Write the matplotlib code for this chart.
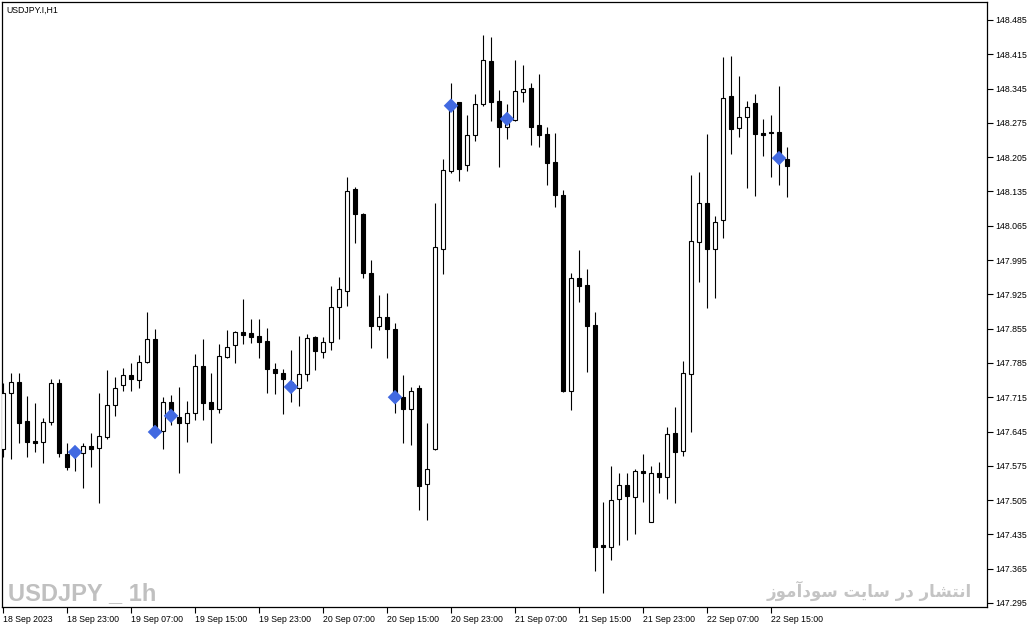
import matplotlib
matplotlib.use("Agg")
import matplotlib.pyplot as plt
from matplotlib.patches import Rectangle

# --------------------------
# Data: USDJPY.I H1 candles (18 Sep 15:00 .. 22 Sep 17:00)
# --------------------------
opens = [147.609, 147.724, 147.746, 147.666, 147.626, 147.624, 147.664, 147.744, 147.599, 147.597,
         147.601, 147.615, 147.611, 147.634, 147.699, 147.740, 147.760, 147.750, 147.787, 147.834,
         147.646, 147.705, 147.675, 147.662, 147.683, 147.779, 147.705, 147.691, 147.797, 147.822,
         147.848, 147.846, 147.840, 147.830, 147.773, 147.764, 147.746, 147.734, 147.762, 147.838,
         147.807, 147.828, 147.899, 147.932, 148.140, 148.089, 147.969, 147.860, 147.879, 147.854,
         147.715, 147.691, 147.734, 147.538, 147.609, 148.018, 148.177, 148.318, 148.189, 148.250,
         148.314, 148.401, 148.320, 148.267, 148.281, 148.338, 148.346, 148.271, 148.252, 148.195,
         148.128, 147.728, 147.958, 147.944, 147.862, 147.413, 147.409, 147.507, 147.536, 147.511,
         147.564, 147.460, 147.560, 147.552, 147.642, 147.605, 147.762, 148.032, 148.111, 148.018,
         148.077, 148.330, 148.265, 148.287, 148.316, 148.254, 148.256, 148.256, 148.201]
highs = [147.744, 147.764, 147.764, 147.717, 147.703, 147.673, 147.752, 147.752, 147.622, 147.611,
         147.622, 147.642, 147.724, 147.771, 147.756, 147.775, 147.785, 147.801, 147.889, 147.854,
         147.715, 147.720, 147.736, 147.707, 147.803, 147.834, 147.764, 147.824, 147.852, 147.850,
         147.916, 147.875, 147.875, 147.856, 147.785, 147.773, 147.811, 147.840, 147.844, 147.840,
         147.838, 147.942, 147.960, 148.165, 148.144, 148.091, 147.995, 147.924, 147.928, 147.867,
         147.760, 147.736, 147.740, 147.662, 148.111, 148.201, 148.356, 148.318, 148.291, 148.334,
         148.454, 148.450, 148.342, 148.314, 148.403, 148.393, 148.356, 148.375, 148.267, 148.254,
         148.138, 147.969, 148.016, 147.977, 147.889, 147.501, 147.575, 147.560, 147.560, 147.568,
         147.599, 147.575, 147.583, 147.654, 147.695, 147.789, 148.169, 148.175, 148.252, 148.085,
         148.410, 148.412, 148.371, 148.320, 148.334, 148.283, 148.291, 148.350, 148.226]
lows = [147.593, 147.589, 147.622, 147.593, 147.603, 147.581, 147.658, 147.593, 147.566, 147.564,
        147.530, 147.573, 147.499, 147.630, 147.677, 147.728, 147.728, 147.734, 147.785, 147.634,
        147.609, 147.658, 147.560, 147.624, 147.669, 147.669, 147.622, 147.683, 147.795, 147.785,
        147.824, 147.826, 147.795, 147.724, 147.722, 147.681, 147.705, 147.697, 147.748, 147.771,
        147.795, 147.811, 147.834, 147.901, 148.030, 147.958, 147.815, 147.852, 147.795, 147.683,
        147.622, 147.617, 147.485, 147.464, 147.607, 147.966, 148.173, 148.156, 148.177, 148.238,
        148.310, 148.279, 148.185, 148.242, 148.279, 148.318, 148.230, 148.226, 148.148, 148.103,
        147.726, 147.689, 147.909, 147.767, 147.360, 147.315, 147.383, 147.413, 147.424, 147.436,
        147.501, 147.460, 147.520, 147.507, 147.499, 147.595, 147.644, 147.950, 147.897, 147.918,
        148.040, 148.212, 148.246, 148.142, 148.126, 148.207, 148.165, 148.148, 148.124]
closes = [147.724, 147.746, 147.662, 147.624, 147.622, 147.664, 147.744, 147.601, 147.573, 147.605,
          147.615, 147.609, 147.636, 147.699, 147.734, 147.760, 147.752, 147.787, 147.834, 147.644,
          147.705, 147.685, 147.662, 147.683, 147.779, 147.703, 147.691, 147.799, 147.818, 147.848,
          147.842, 147.838, 147.828, 147.773, 147.764, 147.752, 147.730, 147.762, 147.836, 147.809,
          147.828, 147.899, 147.936, 148.136, 148.089, 147.969, 147.860, 147.879, 147.854, 147.715,
          147.691, 147.728, 147.534, 147.568, 148.022, 148.179, 148.307, 148.181, 148.250, 148.314,
          148.403, 148.318, 148.267, 148.285, 148.340, 148.344, 148.267, 148.250, 148.193, 148.128,
          147.728, 147.958, 147.942, 147.860, 147.409, 147.409, 147.505, 147.536, 147.513, 147.564,
          147.560, 147.560, 147.552, 147.640, 147.603, 147.764, 148.034, 148.111, 148.018, 148.073,
          148.326, 148.263, 148.287, 148.307, 148.252, 148.250, 148.254, 148.203, 148.187]

# blue diamond signals (candle index, price)
signal_idx = [9, 19, 21, 36, 49, 56, 63, 97]
signal_price = [147.603, 147.644, 147.677, 147.736, 147.715, 148.310, 148.283, 148.203]

# axis ticks
tick_idx = [0, 8, 16, 24, 32, 40, 48, 56, 64, 72, 80, 88, 96]
tick_labels = ["18 Sep 2023", "18 Sep 23:00", "19 Sep 07:00", "19 Sep 15:00", "19 Sep 23:00",
               "20 Sep 07:00", "20 Sep 15:00", "20 Sep 23:00", "21 Sep 07:00", "21 Sep 15:00",
               "21 Sep 23:00", "22 Sep 07:00", "22 Sep 15:00"]
price_ticks = [147.295, 147.365, 147.435, 147.505, 147.575, 147.645, 147.715, 147.785, 147.855,
               147.925, 147.995, 148.065, 148.135, 148.205, 148.275, 148.345, 148.415, 148.485]

title_text = "USDJPY.I,H1"
symbol_mark = "USDJPY _ 1h"
site_mark = "انتشار در سایت سودآموز"


# --------------------------
# Small Persian shaper (matplotlib has no RTL/joining support)
# forms: isolated, final, initial, medial
# --------------------------
FORMS = {
    "ا": ("\uFE8D", "\uFE8E", None, None),
    "آ": ("\uFE81", "\uFE82", None, None),
    "ن": ("\uFEE5", "\uFEE6", "\uFEE7", "\uFEE8"),
    "ت": ("\uFE95", "\uFE96", "\uFE97", "\uFE98"),
    "ش": ("\uFEB5", "\uFEB6", "\uFEB7", "\uFEB8"),
    "ر": ("\uFEAD", "\uFEAE", None, None),
    "د": ("\uFEA9", "\uFEAA", None, None),
    "س": ("\uFEB1", "\uFEB2", "\uFEB3", "\uFEB4"),
    "ی": ("\uFBFC", "\uFBFD", "\uFEF3", "\uFEF4"),
    "و": ("\uFEED", "\uFEEE", None, None),
    "م": ("\uFEE1", "\uFEE2", "\uFEE3", "\uFEE4"),
    "ز": ("\uFEAF", "\uFEB0", None, None),
}


def shape_fa(text):
    out = []
    for i, ch in enumerate(text):
        if ch not in FORMS:
            out.append(ch)
            continue
        prev = text[i - 1] if i > 0 else ""
        nxt = text[i + 1] if i + 1 < len(text) else ""
        join_prev = prev in FORMS and FORMS[prev][2] is not None
        join_next = nxt in FORMS and FORMS[ch][2] is not None
        iso, fin, ini, med = FORMS[ch]
        if join_prev and join_next:
            out.append(med)
        elif join_prev:
            out.append(fin)
        elif join_next:
            out.append(ini)
        else:
            out.append(iso)
    return "".join(reversed(out))


# --------------------------
# Figure
# --------------------------
W, H = 1035, 629
fig = plt.figure(figsize=(W / 100, H / 100), dpi=100)
fig.patch.set_facecolor("white")
ax = fig.add_axes([2 / W, 22 / H, 985 / W, 605 / H])
ax.set_facecolor("white")

body_w = 0.5
for i in range(len(opens)):
    o, h, l, c = opens[i], highs[i], lows[i], closes[i]
    ax.vlines(i, l, h, color="black", linewidth=0.8, zorder=2)
    bottom = min(o, c)
    height = max(abs(c - o), 0.0005)
    face = "white" if c > o else "black"
    ax.add_patch(Rectangle((i - body_w / 2, bottom), body_w, height,
                           facecolor=face, edgecolor="black", linewidth=0.8, zorder=3))

ax.scatter(signal_idx, signal_price, marker="D", s=55, color="#4169E1",
           edgecolors="none", zorder=4)

ax.set_xlim(-0.125, 123)
ax.set_ylim(147.2868, 148.5217)

ax.yaxis.tick_right()
ax.set_yticks(price_ticks)
ax.set_yticklabels([f"{p:.3f}" for p in price_ticks])
ax.set_xticks(tick_idx)
ax.set_xticklabels(tick_labels, ha="left")
ax.tick_params(axis="both", length=4, width=0.8, pad=2, labelsize=6.3, colors="black")
ax.tick_params(axis="x", pad=2)
for lbl in ax.get_xticklabels() + ax.get_yticklabels():
    lbl.set_fontfamily("Liberation Sans")
for s in ax.spines.values():
    s.set_linewidth(0.9)
    s.set_color("black")

# labels / watermarks
fig.text(6 / W, 1 - 10 / H, title_text, fontsize=6.3, family="Liberation Sans",
         va="center", ha="left", color="black")
fig.text(8 / W, 1 - 600 / H, symbol_mark, fontsize=17, fontweight="bold",
         family="Liberation Sans", color="#C0C0C0", va="baseline", ha="left")
fig.text(972 / W, 1 - 597 / H, shape_fa(site_mark), fontsize=12, fontweight="bold",
         family="DejaVu Sans", color="#C4C4C4", va="baseline", ha="right")

fig.savefig("out.png", dpi=100, facecolor="white")
